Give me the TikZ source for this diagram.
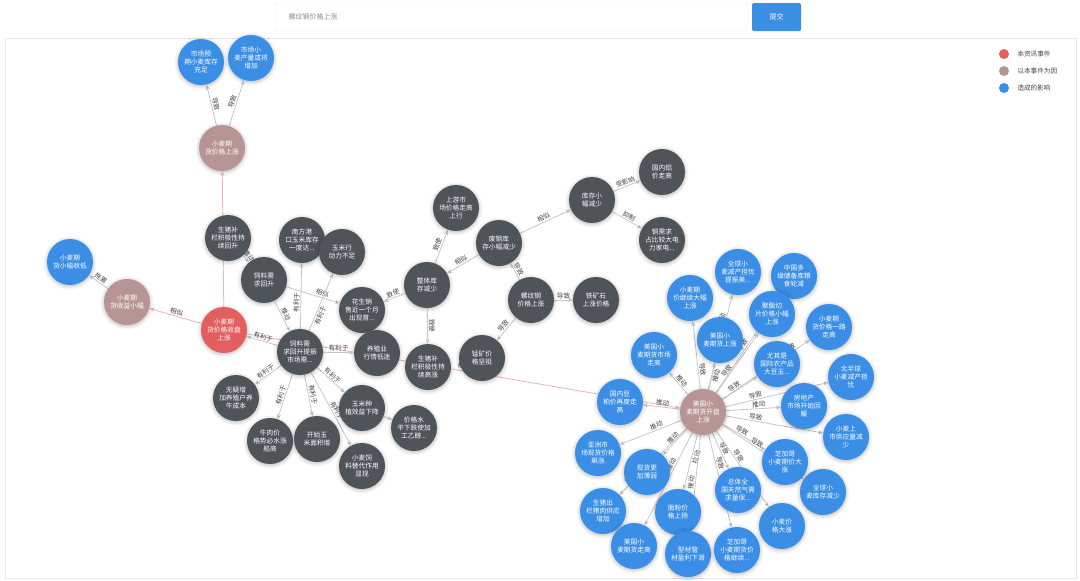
\documentclass[tikz,border=0pt]{standalone}
\usepackage{fontspec}
\newfontfamily\cjk{Noto Sans CJK SC}
\usetikzlibrary{arrows.meta,shadows.blur,backgrounds}
\definecolor{cgray}{HTML}{4F5459}
\definecolor{cblue}{HTML}{3A8EE6}
\definecolor{cred}{HTML}{E35F5F}
\definecolor{crose}{HTML}{B89595}
\definecolor{cline}{HTML}{C6C6C6}
\definecolor{cpink}{HTML}{F0B4B4}
\definecolor{clab}{HTML}{444444}
\tikzset{
  base/.style={circle, minimum size=46pt, inner sep=0pt, align=center,
    font=\cjk\fontsize{6.7}{8}\selectfont, text=white,
    blur shadow={shadow xshift=0pt, shadow yshift=-1pt, shadow blur radius=4pt, shadow opacity=30, shadow blur steps=6}},
  gnode/.style={base, fill=cgray},
  bnode/.style={base, fill=cblue},
  rnode/.style={base, fill=cred},
  pnode/.style={base, fill=crose},
  ed/.style={draw=cline, line width=0.8pt, -{Stealth[length=5pt,width=4pt]}},
  ped/.style={draw=cpink, line width=0.8pt, -{Stealth[length=5pt,width=4pt]}},
  lab/.style={font=\cjk\fontsize{6.6}{7}\selectfont, text=clab, sloped, above, inner sep=1pt},
  legtxt/.style={font=\cjk\fontsize{6.6}{7}\selectfont, text=clab, anchor=west}
}
\begin{document}
\begin{tikzpicture}[x=1pt,y=-1pt]
\useasboundingbox (0,0) rectangle (1080,581);
% top bar
\draw[draw=black!10, rounded corners=2pt] (275,3) rectangle (748,31);
\node[font=\cjk\fontsize{7}{8}\selectfont, text=black!45, anchor=west] (ph) at (285,17) {螺纹钢价格上涨};
\fill[cblue, rounded corners=2pt] (752,3) rectangle (801,31);
\node[font=\cjk\fontsize{7}{8}\selectfont, text=white] (btn) at (776.5,17) {提交};
% frame
\draw[draw=black!9] (5,38) rectangle (1076,578);
% legend
\fill[cred] (1004,54) circle (5pt);
\fill[crose] (1004,71) circle (5pt);
\fill[cblue] (1004,88) circle (5pt);
\node[legtxt] (l1) at (1014,54) {本资讯事件};
\node[legtxt] (l2) at (1014,71) {以本事件为因};
\node[legtxt] (l3) at (1014,88) {造成的影响};

% left / centre nodes
\node[pnode] (p1) at (222,148) {小麦期\\货价格上涨};
\node[bnode] (t1) at (201,62) {市场预\\期小麦库存\\充足};
\node[bnode] (t2) at (251,58) {市场小\\麦产量或将\\增加};
\node[rnode] (r) at (224,330) {小麦期\\货价格收盘\\上涨};
\node[pnode] (p2) at (127,302) {小麦期\\货收益小幅};
\node[bnode] (t3) at (70,262) {小麦期\\货小幅收低};
\node[gnode] (a) at (228,238) {生猪补\\栏积极性持\\续回升};
\node[gnode] (b) at (264,280) {饲料需\\求回升};
\node[gnode] (c) at (302,240) {南方港\\口玉米库存\\一度达...};
\node[gnode] (d) at (342,252) {玉米行\\动力不足};
\node[gnode] (e) at (362,310) {花生销\\售近一个月\\出现首...};
\node[gnode] (f) at (300,352) {饲料需\\求回升提振\\市场需...};
\node[gnode] (g) at (377,353) {养殖业\\行情低迷};
\node[gnode] (h) at (428,367) {生猪补\\栏积极性持\\续高涨};
\node[gnode] (i) at (427,285) {整体库\\存减少};
\node[gnode] (u) at (456,208) {上游市\\场价格走高\\上行};
\node[gnode] (j) at (499,243) {废钢库\\存小幅减少};
\node[gnode] (k) at (592,200) {库存小\\幅减少};
\node[gnode] (l) at (662,172) {国内铝\\价走高};
\node[gnode] (m) at (662,240) {铜需求\\占比较大电\\力家电...};
\node[gnode] (n) at (531,300) {螺纹钢\\价格上涨};
\node[gnode] (o) at (596,300) {铁矿石\\上涨价格};
\node[gnode] (pp) at (482,358) {锰矿价\\格坚挺};
\node[gnode] (w1) at (236,398) {无疑增\\加养殖户养\\牛成本};
\node[gnode] (w2) at (270,441) {牛肉价\\格势必水涨\\船高};
\node[gnode] (w3) at (317,439) {开始玉\\米面积增};
\node[gnode] (w4) at (362,466) {小麦饲\\料替代作用\\显现};
\node[gnode] (w5) at (362,408) {玉米种\\植效益下降};
\node[gnode] (w6) at (414,428) {价格水\\平下跌使加\\工乙醇...};

% right cluster
\node[pnode] (cc) at (703,412) {美国小\\麦期货开盘\\上涨};
\node[bnode] (b1) at (690,298) {小麦期\\价继续大幅\\上涨};
\node[bnode] (b2) at (738,272) {全球小\\麦减产担忧\\提振美...};
\node[bnode] (b3) at (794,276) {中国多\\级储备库粮\\食轮减};
\node[bnode] (b4) at (772,314) {聚酯切\\片价格小幅\\上涨};
\node[bnode] (b5) at (829,327) {小麦期\\货价格一路\\走高};
\node[bnode] (b6) at (720,340) {美国小\\麦期货上涨};
\node[bnode] (b7) at (654,355) {美国小\\麦期货市场\\走高};
\node[bnode] (b8) at (777,364) {尤其是\\国际农产品\\大豆玉...};
\node[bnode] (b9) at (851,377) {北半球\\小麦减产担\\忧};
\node[bnode] (b10) at (804,406) {房地产\\市场开始回\\暖};
\node[bnode] (b11) at (620,402) {国内豆\\粕价再度走\\高};
\node[bnode] (b12) at (846,437) {小麦上\\市供应量减\\少};
\node[bnode] (b13) at (598,453) {亚洲市\\场现货价格\\飙涨};
\node[bnode] (b14) at (647,472) {现货更\\加薄弱};
\node[bnode] (b15) at (785,462) {芝加哥\\小麦期价大\\涨};
\node[bnode] (b16) at (823,492) {全球小\\麦库存减少};
\node[bnode] (b17) at (738,490) {总体全\\国天然气需\\求量保...};
\node[bnode] (b18) at (603,511) {生猪出\\栏猪肉供应\\增加};
\node[bnode] (b19) at (678,512) {面粉价\\格上扬};
\node[bnode] (b20) at (782,526) {小麦价\\格大涨};
\node[bnode] (b21) at (634,546) {美国小\\麦期货走高};
\node[bnode] (b22) at (688,554) {型材管\\材盈利下滑};
\node[bnode] (b23) at (737,550) {芝加哥\\小麦期货价\\格继续...};

\begin{scope}[on background layer]
\draw[ped] (r) -- (p1);
\draw[ped] (r) -- node[lab]{相似} (p2);
\draw[ped] (r) -- node[lab, pos=0.5]{相似} (cc);
\draw[ed] (p1) -- node[lab]{导致} (t1);
\draw[ed] (p1) -- node[lab]{导致} (t2);
\draw[ed] (p2) -- node[lab]{拖累} (t3);
\draw[ed] (a) -- node[lab, pos=0.45]{推动} (b);
\draw[ed] (b) -- node[lab]{推动} (f);
\draw[ed] (b) -- node[lab, pos=0.65]{相似} (e);
\draw[ed] (f) -- node[lab, pos=0.4]{有利于} (c);
\draw[ed] (f) -- node[lab, pos=0.3, below]{有利于} (d);
\draw[ed] (f) -- node[lab]{有利于} (r);
\draw[ed] (f) -- node[lab]{有利于} (g);
\draw[ed] (f) -- node[lab]{有利于} (w1);
\draw[ed] (f) -- node[lab]{有利于} (w2);
\draw[ed] (f) -- node[lab]{有利于} (w3);
\draw[ed] (f) -- node[lab, pos=0.55]{有利于} (w4);
\draw[ed] (f) -- node[lab, pos=0.45]{有利于} (w5);
\draw[ed] (w5) -- (w6);
\draw[ed] (i) -- node[lab]{致使} (u);
\draw[ed] (i) -- node[lab]{致使} (e);
\draw[ed] (i) -- node[lab]{致使} (h);
\draw[ed] (j) -- node[lab]{相似} (i);
\draw[ed] (j) -- node[lab]{相似} (k);
\draw[ed] (k) -- node[lab]{受影响} (l);
\draw[ed] (k) -- node[lab]{抑制} (m);
\draw[ed] (n) -- node[lab]{导致} (j);
\draw[ed] (n) -- node[lab]{导致} (o);
\draw[ed] (n) -- node[lab]{导致} (pp);
% right cluster edges
\draw[ed] (cc) -- node[lab, pos=0.28]{导致} (b1);
\draw[ed] (cc) -- node[lab, pos=0.72]{推动} (b2);
\draw[ed] (cc) -- node[lab, pos=0.46]{导致} (b3);
\draw[ed] (cc) -- node[lab, pos=0.33]{导致} (b4);
\draw[ed] (cc) -- node[lab, pos=0.79]{导致} (b5);
\draw[ed] (cc) -- node[lab, pos=0.55, below]{推动} (b6);
\draw[ed] (cc) -- node[lab, pos=0.5]{推动} (b7);
\draw[ed] (cc) -- node[lab, pos=0.4]{导致} (b8);
\draw[ed] (cc) -- node[lab, pos=0.3]{导致} (b9);
\draw[ed] (cc) -- node[lab, pos=0.6]{推动} (b10);
\draw[ed] (cc) -- node[lab, pos=0.48]{推动} (b11);
\draw[ed] (cc) -- node[lab, pos=0.3]{导致} (b12);
\draw[ed] (cc) -- node[lab, pos=0.38]{推动} (b13);
\draw[ed] (cc) -- node[lab, pos=0.46]{推动} (b14);
\draw[ed] (cc) -- node[lab, pos=0.4]{导致} (b15);
\draw[ed] (cc) -- node[lab, pos=0.4]{导致} (b16);
\draw[ed] (cc) -- node[lab, pos=0.47]{导致} (b17);
\draw[ed] (cc) -- node[lab, pos=0.79]{推动} (b18);
\draw[ed] (cc) -- node[lab, pos=0.39, below]{拉动} (b19);
\draw[ed] (cc) -- node[lab, pos=0.36]{导致} (b20);
\draw[ed] (cc) -- node[lab, pos=0.36]{推动} (b21);
\draw[ed] (cc) -- node[lab, pos=0.5]{推动} (b22);
\draw[ed] (cc) -- node[lab, pos=0.32]{导致} (b23);
\end{scope}
\end{tikzpicture}
\end{document}
